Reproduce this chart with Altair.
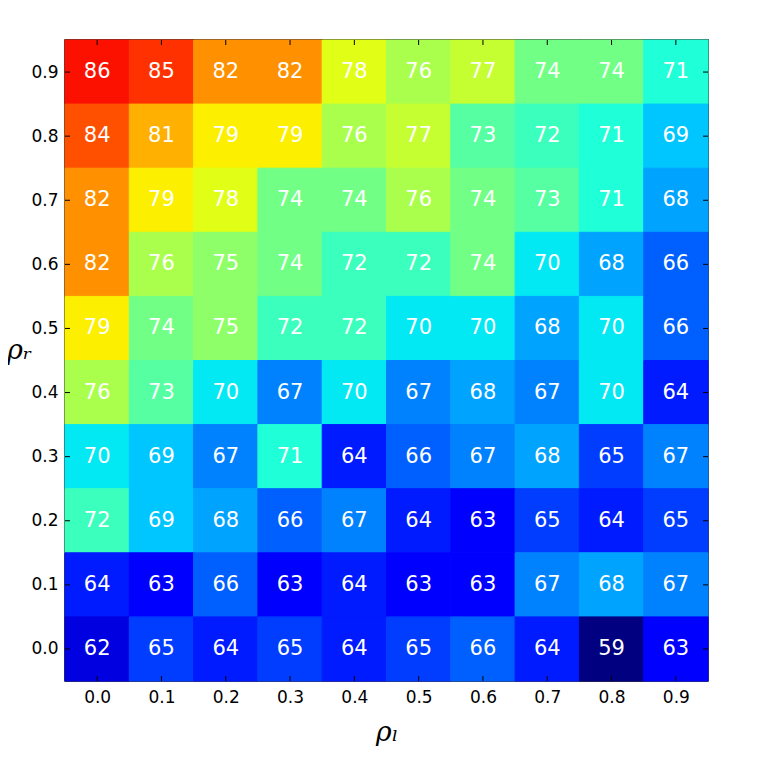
import altair as alt
import pandas as pd

# ---- data ----
rho_l = [0.0, 0.1, 0.2, 0.3, 0.4, 0.5, 0.6, 0.7, 0.8, 0.9]
rho_r = [0.9, 0.8, 0.7, 0.6, 0.5, 0.4, 0.3, 0.2, 0.1, 0.0]  # rows, top to bottom

row_09 = [86, 85, 82, 82, 78, 76, 77, 74, 74, 71]
row_08 = [84, 81, 79, 79, 76, 77, 73, 72, 71, 69]
row_07 = [82, 79, 78, 74, 74, 76, 74, 73, 71, 68]
row_06 = [82, 76, 75, 74, 72, 72, 74, 70, 68, 66]
row_05 = [79, 74, 75, 72, 72, 70, 70, 68, 70, 66]
row_04 = [76, 73, 70, 67, 70, 67, 68, 67, 70, 64]
row_03 = [70, 69, 67, 71, 64, 66, 67, 68, 65, 67]
row_02 = [72, 69, 68, 66, 67, 64, 63, 65, 64, 65]
row_01 = [64, 63, 66, 63, 64, 63, 63, 67, 68, 67]
row_00 = [62, 65, 64, 65, 64, 65, 66, 64, 59, 63]
rows = [row_09, row_08, row_07, row_06, row_05, row_04, row_03, row_02, row_01, row_00]

tick_values = [0.0, 0.1, 0.2, 0.3, 0.4, 0.5, 0.6, 0.7, 0.8, 0.9]

records = []
for r, vals in zip(rho_r, rows):
    for l, v in zip(rho_l, vals):
        records.append({"rho_l": l, "rho_r": r, "acc": v})
df = pd.DataFrame(records)
ticks_df = pd.DataFrame({"rho_l": tick_values, "rho_r": tick_values})

# ---- jet colormap (matplotlib segment data) ----
red = [(0, 0), (0.35, 0), (0.66, 1), (0.89, 1), (1, 0.5)]
green = [(0, 0), (0.125, 0), (0.375, 1), (0.64, 1), (0.91, 0), (1, 0)]
blue = [(0, 0.5), (0.11, 1), (0.34, 1), (0.65, 0), (1, 0)]


def seg(points, t):
    for (x0, y0), (x1, y1) in zip(points, points[1:]):
        if x0 <= t <= x1:
            return y0 + (y1 - y0) * (t - x0) / (x1 - x0)
    return points[-1][1]


stops = sorted({p[0] for p in red + green + blue})
vmin, vmax = 59.5, 89.2
color_domain = [vmin + (vmax - vmin) * s for s in stops]
color_range = [
    "#%02x%02x%02x" % tuple(int(round(255 * seg(c, s))) for c in (red, green, blue))
    for s in stops
]

W, H = 643, 641
TL = 5

xscale = alt.Scale(domain=[-0.05, 0.95], nice=False, zero=False)
yscale = alt.Scale(domain=[-0.05, 0.95], nice=False, zero=False)

xaxis = alt.Axis(
    values=tick_values, format=".1f", ticks=False, domain=False, grid=False,
    labelFont="DejaVu Sans", labelFontSize=17, labelColor="black", labelPadding=8,
    title="ρₗ", titleFont="DejaVu Serif", titleFontStyle="italic",
    titleFontWeight="normal", titleFontSize=27, titleColor="black", titlePadding=14,
)
yaxis = alt.Axis(
    values=tick_values, format=".1f", ticks=False, domain=False, grid=False,
    labelFont="DejaVu Sans", labelFontSize=17, labelColor="black", labelPadding=7,
    title="ρᵣ", titleFont="DejaVu Serif", titleFontStyle="italic",
    titleFontWeight="normal", titleFontSize=27, titleColor="black",
    titleAngle=0, titleAlign="center", titleBaseline="middle", titleX=-46, titleY=310,
)

base = alt.Chart(df)

color_enc = alt.Color("acc:Q", scale=alt.Scale(domain=color_domain, range=color_range,
                                               interpolate="rgb", clamp=True),
                      legend=None)

heat = base.mark_rect(strokeWidth=1).transform_calculate(
    x0="datum.rho_l - 0.05", x1="datum.rho_l + 0.05",
    y0="datum.rho_r - 0.05", y1="datum.rho_r + 0.05",
).encode(
    x=alt.X("x0:Q", scale=xscale, axis=xaxis),
    x2="x1:Q",
    y=alt.Y("y0:Q", scale=yscale, axis=yaxis),
    y2="y1:Q",
    color=color_enc,
    stroke=color_enc,
)

labels = base.mark_text(color="white", font="DejaVu Sans", fontSize=21,
                        align="center", baseline="middle").encode(
    x=alt.X("rho_l:Q", scale=xscale, axis=xaxis),
    y=alt.Y("rho_r:Q", scale=yscale, axis=yaxis),
    text="acc:Q",
)

tk = alt.Chart(ticks_df)
tick_top = tk.mark_rule(color="black", strokeWidth=1).encode(
    x=alt.X("rho_l:Q", scale=xscale, axis=xaxis), y=alt.value(0), y2=alt.value(TL))
tick_bottom = tk.mark_rule(color="black", strokeWidth=1).encode(
    x=alt.X("rho_l:Q", scale=xscale, axis=xaxis), y=alt.value(H), y2=alt.value(H - TL))
tick_left = tk.mark_rule(color="black", strokeWidth=1).encode(
    y=alt.Y("rho_r:Q", scale=yscale, axis=yaxis), x=alt.value(0), x2=alt.value(TL))
tick_right = tk.mark_rule(color="black", strokeWidth=1).encode(
    y=alt.Y("rho_r:Q", scale=yscale, axis=yaxis), x=alt.value(W), x2=alt.value(W - TL))

chart = alt.layer(heat, labels, tick_top, tick_bottom, tick_left, tick_right).properties(
    width=W, height=H,
    padding={"left": 57, "top": 32, "right": 46, "bottom": 65},
    autosize=alt.AutoSizeParams(type="none"),
    background="white",
).configure_view(stroke="black", strokeWidth=1.5)

chart.save("out.html", embed_options={"renderer": "svg", "actions": False})
